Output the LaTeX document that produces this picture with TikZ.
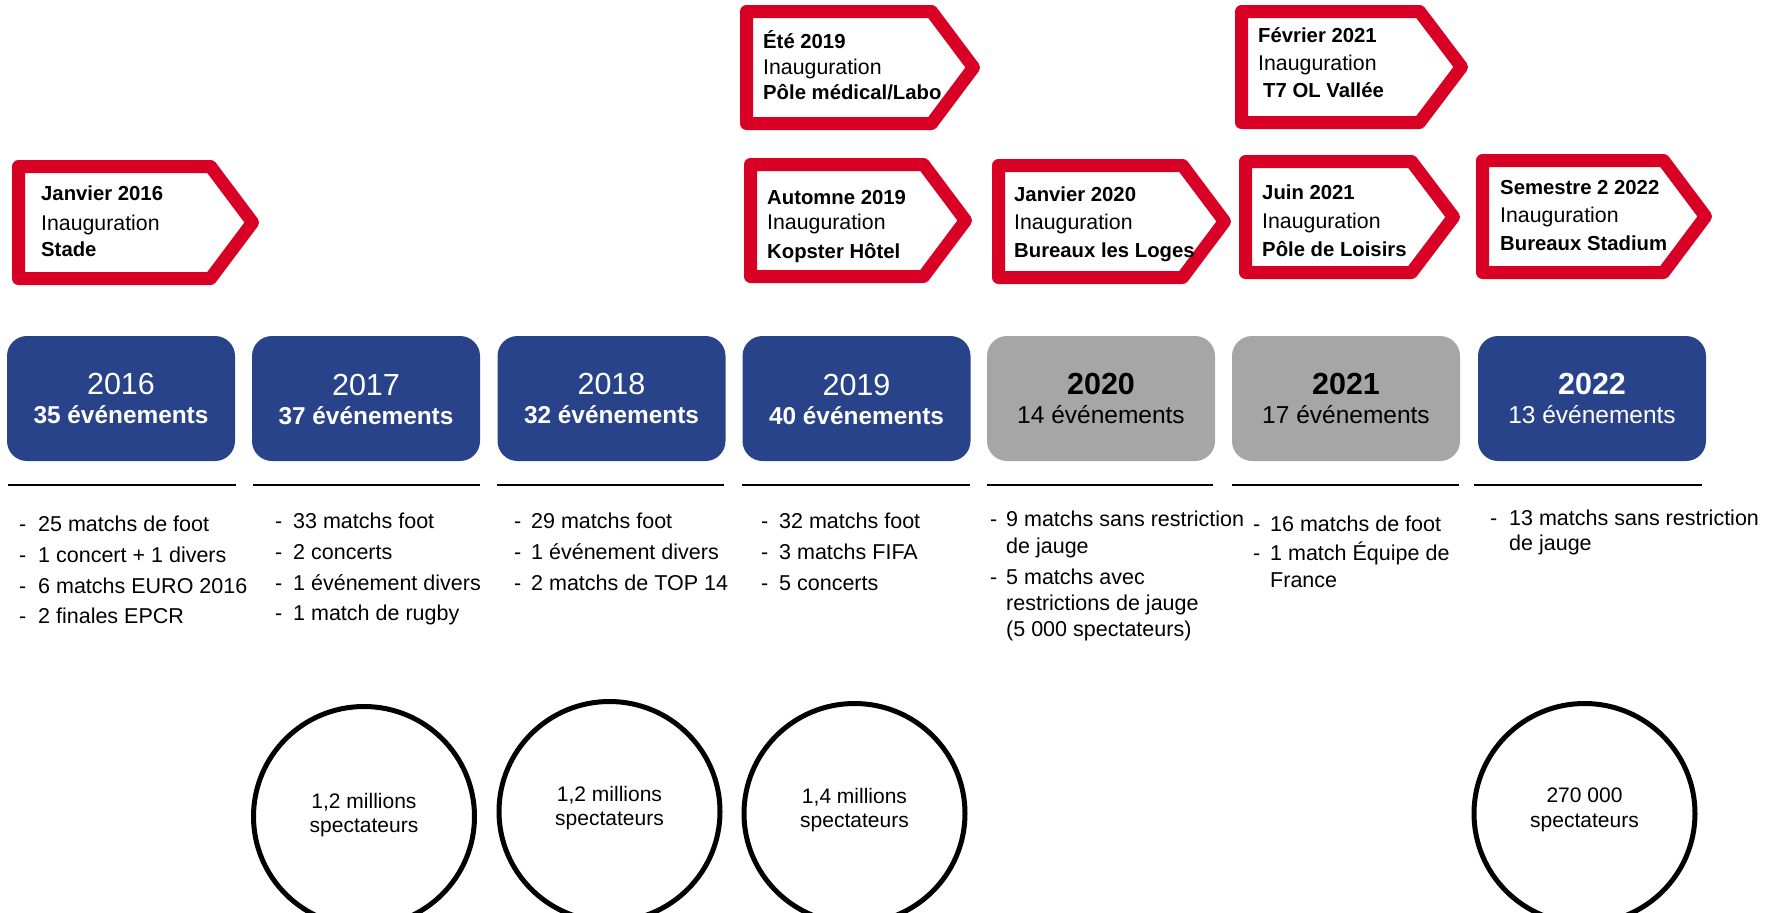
\documentclass[tikz,border=0pt]{standalone}
\usepackage{fontspec}
\setmainfont{Liberation Sans}
\usetikzlibrary{shapes.geometric}
\definecolor{olblue}{RGB}{40,67,138}
\definecolor{olgray}{RGB}{166,166,166}
\definecolor{olred}{RGB}{216,0,36}
\newcommand{\redtag}[5]{%
  \draw[tagline] ({#2+6.5},{#3+6.5}) -- ({#4-48.5},{#3+6.5}) -- ({#4-6.5},{(#3+#5)/2})
    -- ({#4-48.5},{#5-6.5}) -- ({#2+6.5},{#5-6.5}) -- cycle;
  \coordinate (#1) at ({(#2+#4)/2},{(#3+#5)/2});}
\newcommand{\tagtext}[8]{% name, x, y1, y2, y3, l1, l2, l3
  \node[tb] (#1a) at (#2,#3) {#6};
  \node[tr] (#1b) at (#2,#4) {#7};
  \node[tb] (#1c) at (#2,#5) {#8};}
\newcommand{\li}[5]{% name, dash x, text x, y, text
  \node[item] (#1d) at (#2,#4) {-};
  \node[item] (#1) at (#3,#4) {#5};}
\newcommand{\lc}[4]{\node[item] (#1) at (#2,#3) {#4};}
\begin{document}
\begin{tikzpicture}[x=1pt,y=-1pt,
  tagline/.style={draw=olred, line width=13pt, line join=round, fill=white},
  tb/.style={font=\fontsize{20.3}{25}\selectfont\bfseries, inner sep=0pt, anchor=base west},
  tr/.style={font=\fontsize{21.3}{25}\selectfont, inner sep=0pt, anchor=base west},
  yearbox/.style={rounded corners=20pt, minimum width=228pt, minimum height=125pt, inner sep=0pt},
  ylr/.style={font=\fontsize{30.5}{32}\selectfont, inner sep=0pt, anchor=base},
  ylb/.style={font=\fontsize{30.5}{32}\selectfont\bfseries, inner sep=0pt, anchor=base},
  clb/.style={font=\fontsize{24.4}{27}\selectfont\bfseries, inner sep=0pt, anchor=base},
  clr/.style={font=\fontsize{24.5}{27}\selectfont, inner sep=0pt, anchor=base},
  item/.style={font=\fontsize{21.5}{26}\selectfont, inner sep=0pt, anchor=base west},
  rule/.style={draw=black, line width=2pt},
  spect/.style={ellipse, draw=black, line width=5pt, inner sep=0pt, minimum width=221pt, minimum height=220pt},
  ct/.style={font=\fontsize{21}{25}\selectfont, inner sep=0pt, anchor=base}]
\useasboundingbox (0,0) rectangle (1773,913);

% ---------- red tags ----------
\redtag{t16}{12}{160}{259}{285}
\redtag{t19a}{740}{5}{980}{130}
\redtag{t19b}{744}{158}{972}{283}
\redtag{t20}{992}{159}{1231}{284}
\redtag{t21a}{1235}{5}{1468}{129}
\redtag{t21b}{1239}{155}{1460}{279}
\redtag{t22}{1476}{154}{1712}{279}

\tagtext{x16}{41}{200.7}{230}{256}{Janvier 2016}{Inauguration}{Stade}
\tagtext{x19a}{763}{48}{74}{99}{Été 2019}{Inauguration}{Pôle médical/Labo}
\tagtext{x19b}{767}{204}{229.5}{258}{Automne 2019}{Inauguration}{Kopster Hôtel}
\tagtext{x20}{1014}{201}{229.5}{257}{Janvier 2020}{Inauguration}{Bureaux les Loges}
\node[tb] (x21aa) at (1258,42.5) {Février 2021};
\node[tr] (x21ab) at (1258,70) {Inauguration};
\node[tb] (x21ac) at (1263,97.7) {T7 OL Vallée};
\tagtext{x21b}{1262}{199.5}{228.5}{256}{Juin 2021}{Inauguration}{Pôle de Loisirs}
\tagtext{x22}{1500}{194}{222.7}{250}{Semestre 2 2022}{Inauguration}{Bureaux Stadium}

% ---------- year boxes ----------
\node[yearbox, fill=olblue] (b16) at (121,398.5) {};
\node[yearbox, fill=olblue] (b17) at (366,398.5) {};
\node[yearbox, fill=olblue] (b18) at (611.5,398.5) {};
\node[yearbox, fill=olblue] (b19) at (856.5,398.5) {};
\node[yearbox, fill=olgray] (b20) at (1101,398.5) {};
\node[yearbox, fill=olgray] (b21) at (1346,398.5) {};
\node[yearbox, fill=olblue] (b22) at (1592,398.5) {};

\node[ylr, text=white] (y16) at (121,394) {2016};
\node[clb, text=white] (e16) at (121,423) {35 événements};
\node[ylr, text=white] (y17) at (366,395) {2017};
\node[clb, text=white] (e17) at (366,424) {37 événements};
\node[ylr, text=white] (y18) at (611.5,394) {2018};
\node[clb, text=white] (e18) at (611.5,423) {32 événements};
\node[ylr, text=white] (y19) at (856.5,395) {2019};
\node[clb, text=white] (e19) at (856.5,424) {40 événements};
\node[ylb, text=black] (y20) at (1101,394) {2020};
\node[clr, text=black] (e20) at (1101,423) {14 événements};
\node[ylb, text=black] (y21) at (1346,394) {2021};
\node[clr, text=black] (e21) at (1346,423) {17 événements};
\node[ylb, text=white] (y22) at (1592,394) {2022};
\node[clr, text=white] (e22) at (1592,423) {13 événements};

% ---------- rules ----------
\draw[rule] (8,485) -- (236,485);
\draw[rule] (253,485) -- (480,485);
\draw[rule] (497,485) -- (724,485);
\draw[rule] (742,485) -- (970,485);
\draw[rule] (987,485) -- (1213,485);
\draw[rule] (1232,485) -- (1459,485);
\draw[rule] (1474,485) -- (1702,485);

% ---------- lists ----------
\li{l16a}{19}{38}{531.7}{25 matchs de foot}
\li{l16b}{19}{38}{562.7}{1 concert + 1 divers}
\li{l16c}{19}{38}{593.3}{6 matchs EURO 2016}
\li{l16d}{19}{38}{623.3}{2 finales EPCR}

\li{l17a}{275}{293}{528}{33 matchs foot}
\li{l17b}{275}{293}{559}{2 concerts}
\li{l17c}{275}{293}{590}{1 événement divers}
\li{l17d}{275}{293}{620}{1 match de rugby}

\li{l18a}{514}{531}{528}{29 matchs foot}
\li{l18b}{514}{531}{559}{1 événement divers}
\li{l18c}{514}{531}{590}{2 matchs de TOP 14}

\li{l19a}{761}{779}{528}{32 matchs foot}
\li{l19b}{761}{779}{559}{3 matchs FIFA}
\li{l19c}{761}{779}{590}{5 concerts}

\li{l20a}{990}{1006}{526}{9 matchs sans restriction}
\lc{l20b}{1006}{553}{de jauge}
\li{l20c}{990}{1006}{584}{5 matchs avec}
\lc{l20d}{1006}{610}{restrictions de jauge}
\lc{l20e}{1006}{636}{(5 000 spectateurs)}

\li{l21a}{1253}{1270}{531}{16 matchs de foot}
\li{l21b}{1253}{1270}{560}{1 match Équipe de}
\lc{l21c}{1270}{587}{France}

\li{l22a}{1490}{1509}{525}{13 matchs sans restriction}
\lc{l22b}{1509}{550}{de jauge}

% ---------- spectator circles ----------
\node[spect] (c17) at (364,816.5) {};
\node[spect] (c18) at (609.5,811.5) {};
\node[spect] (c19) at (854.5,813.5) {};
\node[spect] (c22) at (1584.5,813.5) {};

\node[ct] (c17a) at (364,808) {1,2 millions};
\node[ct] (c17b) at (364,832) {spectateurs};
\node[ct] (c18a) at (609.5,801) {1,2 millions};
\node[ct] (c18b) at (609.5,825) {spectateurs};
\node[ct] (c19a) at (854.5,803) {1,4 millions};
\node[ct] (c19b) at (854.5,827) {spectateurs};
\node[ct] (c22a) at (1584.5,802) {270 000};
\node[ct] (c22b) at (1584.5,827) {spectateurs};
\end{tikzpicture}
\end{document}
